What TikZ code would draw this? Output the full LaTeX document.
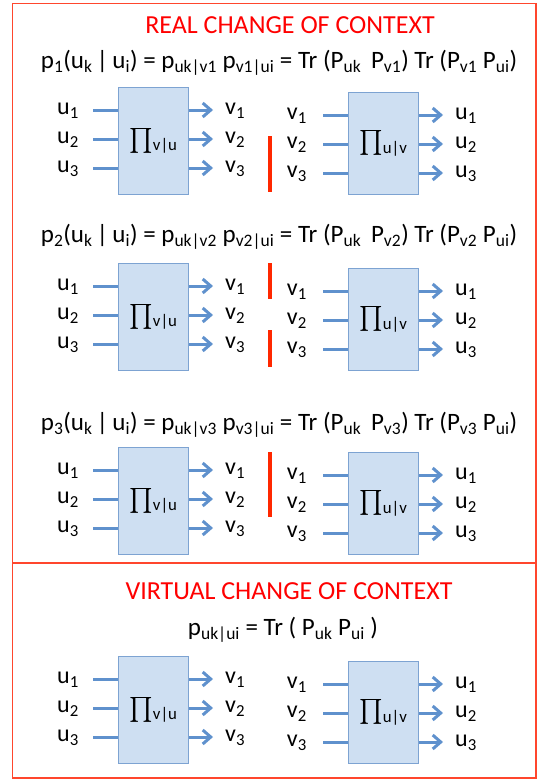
\documentclass[tikz,border=0pt]{standalone}
\usepackage{amsmath}
\usepackage{fontspec}
\setmainfont{Carlito}
\usetikzlibrary{arrows.meta,positioning}
\definecolor{frameRed}{RGB}{255,70,45}
\definecolor{titleRed}{RGB}{255,0,0}
\definecolor{barRed}{RGB}{255,40,0}
\definecolor{boxFill}{RGB}{206,223,242}
\definecolor{boxDraw}{RGB}{125,163,210}
\definecolor{wireBlue}{RGB}{95,145,205}
\newcommand{\sbs}[1]{\textsubscript{#1}}
\newcommand{\bigprod}{{\fontsize{24}{24}\selectfont$\prod$}}

\begin{document}
\begin{tikzpicture}[x=1pt, y=-1pt,
      every node/.style={font=\fontsize{24}{28}\selectfont, inner sep=0pt},
      title/.style={font=\fontsize{26}{30}\selectfont, text=titleRed},
      formula/.style={font=\fontsize{25}{29}\selectfont},
      gate/.style={draw=boxDraw, fill=boxFill, line width=1pt, minimum width=70pt, anchor=north west},
      wire/.style={draw=wireBlue, line width=3pt},
      wout/.style={wire, -{Straight Barb[length=8pt,width=14pt]}},
      cut/.style={draw=barRed, line width=4.5pt}
    ]
    \useasboundingbox (0,0) rectangle (540,779);
    \draw[frameRed, line width=1.3pt] (12.5,3.5) rectangle (536,778);
    \draw[frameRed, line width=1.3pt] (12.5,563) -- (536,563);
    \node[title] (realT) at (290,25) {REAL CHANGE OF CONTEXT};
    \node[title] (virtT) at (289,591) {VIRTUAL CHANGE OF CONTEXT};
    \foreach \p/\ey in {1/63, 2/237, 3/425} {
      \node[formula] (eq\p) at (279,\ey) {p\sbs{\p}(u\sbs{k}\,|\,u\sbs{i}) = p\sbs{uk|v\p} p\sbs{v\p|ui} = Tr (P\sbs{uk}\, P\sbs{v\p}) Tr (P\sbs{v\p} P\sbs{ui})};
    }
    \node[formula] (eq4) at (283,630) {p\sbs{uk|ui} = Tr ( P\sbs{uk} P\sbs{ui} )};
    \foreach \p/\top in {1/87, 2/263, 3/447, 4/656} {
      \node[gate, minimum height=107pt] (L\p) at (118,\top) {\bigprod\sbs{v|u}};
      \node[gate, minimum height=102pt] (R\p) at (348,\top+5) {\bigprod\sbs{u|v}};
      \foreach \r/\dy in {1/23, 2/52, 3/81} {
        \coordinate (Li\p\r) at (93,\top+\dy);
        \coordinate (Lo\p\r) at (213,\top+\dy);
        \coordinate (Ri\p\r) at (323,\top+5+\dy);
        \coordinate (Ro\p\r) at (443,\top+5+\dy);
        \node[left=14pt of Li\p\r, anchor=mid east, yshift=-2.5pt] (lu\p\r) {u\sbs{\r}};
        \node[right=12pt of Lo\p\r, anchor=mid west, yshift=-2.5pt] (lv\p\r) {v\sbs{\r}};
        \node[left=16pt of Ri\p\r, anchor=mid east, yshift=-2.5pt] (rv\p\r) {v\sbs{\r}};
        \node[right=12pt of Ro\p\r, anchor=mid west, yshift=-2.5pt] (ru\p\r) {u\sbs{\r}};
        \draw[wire] (Li\p\r) -- (Li\p\r -| L\p.west);
        \draw[wout] (Lo\p\r -| L\p.east) -- (Lo\p\r);
        \draw[wire] (Ri\p\r) -- (Ri\p\r -| R\p.west);
        \draw[wout] (Ro\p\r -| R\p.east) -- (Ro\p\r);
      }
    }
    \draw[cut] (270,136) -- (270,192);
    \draw[cut] (270,263) -- (270,299);
    \draw[cut] (270,330) -- (270,367);
    \draw[cut] (270,452) -- (270,517);
  \end{tikzpicture}
\end{document}
